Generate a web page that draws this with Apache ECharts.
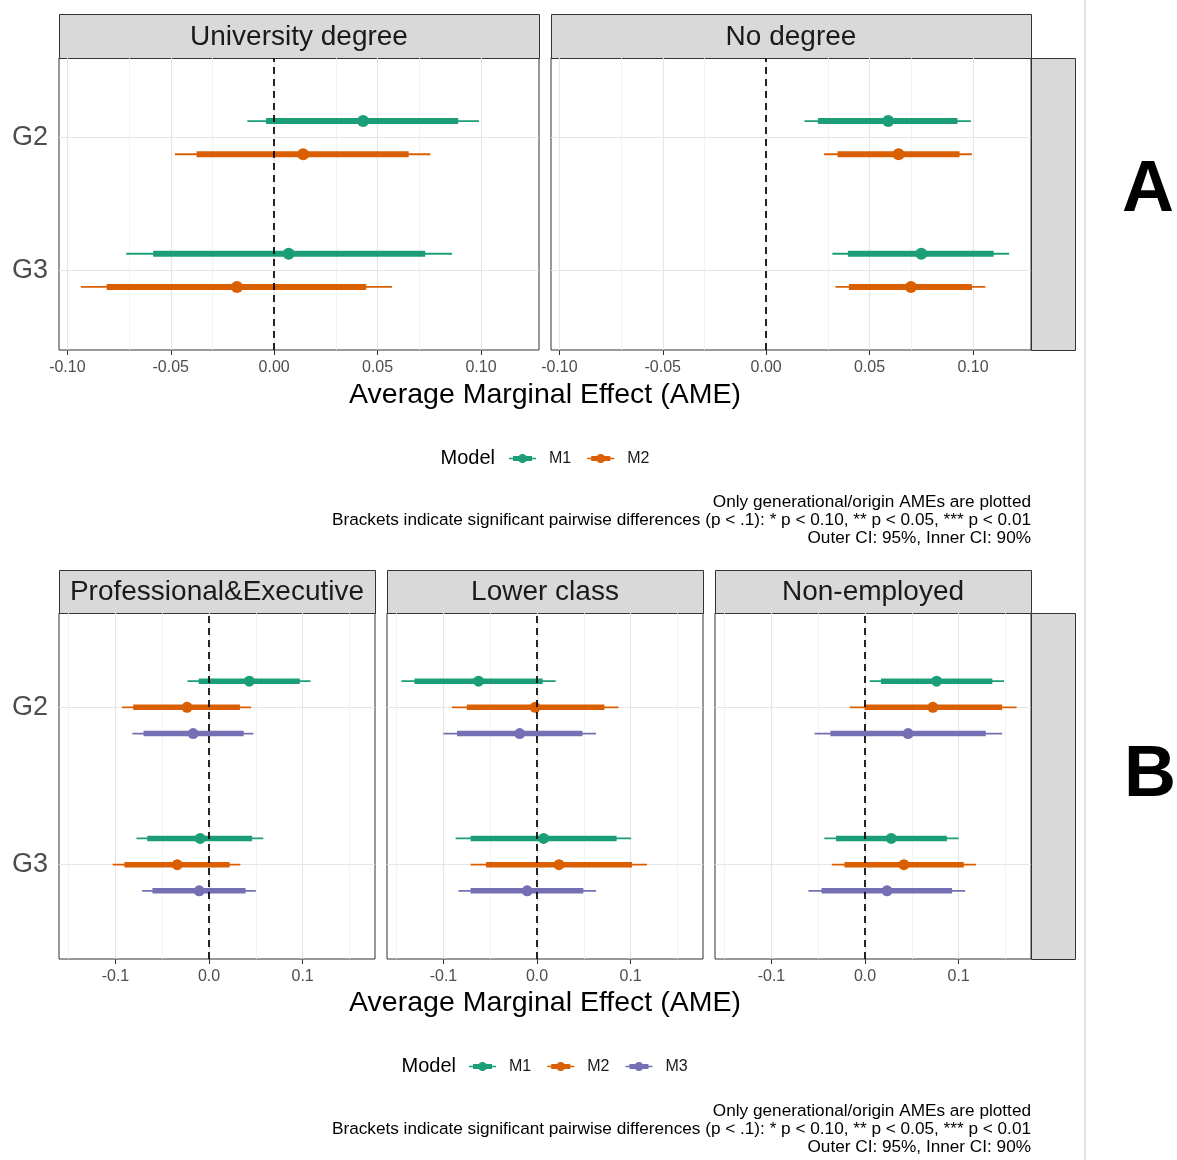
<!DOCTYPE html>
<html><head><meta charset="utf-8">
<script src="https://cdn.jsdelivr.net/npm/echarts@6/dist/echarts.min.js"></script>
<style>html,body{margin:0;padding:0;background:#fff}#c{width:1177px;height:1160px}</style>
</head><body><div id="c"></div><script>
// ---------------- DATA ----------------
const groups = ['G2', 'G3'];
const modelsA = ['M1', 'M2'];
const modelsB = ['M1', 'M2', 'M3'];
const modelColors = ['#1B9E77', '#D95F02', '#7570B3'];
const panelsA = ['University degree', 'No degree'];
const panelsB = ['Professional&Executive', 'Lower class', 'Non-employed'];
const ticksA = [-0.1, -0.05, 0, 0.05, 0.1];
const tickLabelsA = ['-0.10', '-0.05', '0.00', '0.05', '0.10'];
const minorA = [-0.075, -0.025, 0.025, 0.075, 0.125];
const ticksB = [-0.1, 0, 0.1];
const tickLabelsB = ['-0.1', '0.0', '0.1'];
const minorB = [-0.15, -0.05, 0.05, 0.15];
const xTitle = 'Average Marginal Effect (AME)';
const legendTitle = 'Model';
const captionLines = [
  'Only generational/origin AMEs are plotted',
  'Brackets indicate significant pairwise differences (p < .1): * p < 0.10, ** p < 0.05, *** p < 0.01',
  'Outer CI: 95%, Inner CI: 90%'
];
// rows: group, model, lo95, lo90, estimate, hi90, hi95
const uniDegree = [
  ['G2', 'M1', -0.013, -0.004, 0.043, 0.089, 0.099],
  ['G2', 'M2', -0.048, -0.0375, 0.014, 0.065, 0.0755],
  ['G3', 'M1', -0.0715, -0.0585, 0.007, 0.073, 0.086],
  ['G3', 'M2', -0.0935, -0.081, -0.018, 0.0445, 0.057]
];
const noDegree = [
  ['G2', 'M1', 0.0185, 0.025, 0.059, 0.0925, 0.099],
  ['G2', 'M2', 0.028, 0.0345, 0.064, 0.0935, 0.0995],
  ['G3', 'M1', 0.032, 0.0395, 0.075, 0.110, 0.1175],
  ['G3', 'M2', 0.0335, 0.040, 0.070, 0.0995, 0.106]
];
const profExec = [
  ['G2', 'M1', -0.023, -0.011, 0.043, 0.097, 0.1085],
  ['G2', 'M2', -0.093, -0.081, -0.0235, 0.033, 0.045],
  ['G2', 'M3', -0.082, -0.070, -0.017, 0.037, 0.0475],
  ['G3', 'M1', -0.0775, -0.066, -0.0095, 0.046, 0.058],
  ['G3', 'M2', -0.103, -0.0905, -0.034, 0.022, 0.0335],
  ['G3', 'M3', -0.0715, -0.0605, -0.0105, 0.039, 0.050]
];
const lowerClass = [
  ['G2', 'M1', -0.145, -0.131, -0.0625, 0.006, 0.020],
  ['G2', 'M2', -0.091, -0.075, -0.002, 0.072, 0.087],
  ['G2', 'M3', -0.100, -0.0855, -0.0185, 0.0485, 0.063],
  ['G3', 'M1', -0.087, -0.071, 0.007, 0.085, 0.1005],
  ['G3', 'M2', -0.071, -0.0545, 0.0235, 0.1015, 0.1175],
  ['G3', 'M3', -0.084, -0.071, -0.0105, 0.0495, 0.063]
];
const nonEmployed = [
  ['G2', 'M1', 0.005, 0.017, 0.0765, 0.136, 0.1485],
  ['G2', 'M2', -0.0165, -0.0005, 0.0725, 0.1465, 0.162],
  ['G2', 'M3', -0.054, -0.037, 0.046, 0.129, 0.1465],
  ['G3', 'M1', -0.0435, -0.031, 0.028, 0.0875, 0.100],
  ['G3', 'M2', -0.0355, -0.022, 0.0415, 0.1055, 0.1185],
  ['G3', 'M3', -0.0605, -0.0465, 0.0235, 0.093, 0.107]
];

// ---------------- LAYOUT / STYLE ----------------
const FONT = '"Liberation Sans", Arial, Helvetica, sans-serif';
const rowDefs = [
  { panels: panelsA, data: [uniDegree, noDegree], models: modelsA, ticks: ticksA, labels: tickLabelsA, minor: minorA,
    cols: [[59, 539], [551, 1031]], top: 58, height: 292, stripTop: 14, thin: 1.8, thick: 6, r: 6 },
  { panels: panelsB, data: [profExec, lowerClass, nonEmployed], models: modelsB, ticks: ticksB, labels: tickLabelsB, minor: minorB,
    cols: [[59, 375], [387, 703], [715, 1031]], top: 613, height: 346, stripTop: 570, thin: 1.8, thick: 5.5, r: 5.5 }
];

function extentOf(tables) {
  let lo = Infinity, hi = -Infinity;
  tables.forEach(t => t.forEach(r => { lo = Math.min(lo, r[2]); hi = Math.max(hi, r[6]); }));
  const pad = (hi - lo) * 0.05;
  return [lo - pad, hi + pad];
}

function makeRenderer(thin, thick, radius) {
  return function (params, api) {
    const y = api.value(0);
    const a = api.coord([api.value(1), y]);
    const b = api.coord([api.value(2), y]);
    const c = api.coord([api.value(3), y]);
    const d = api.coord([api.value(4), y]);
    const e = api.coord([api.value(5), y]);
    const color = api.visual('color');
    return {
      type: 'group', children: [
        { type: 'line', shape: { x1: a[0], y1: a[1], x2: e[0], y2: e[1] }, style: { stroke: color, lineWidth: thin, lineCap: 'butt' } },
        { type: 'line', shape: { x1: b[0], y1: b[1], x2: d[0], y2: d[1] }, style: { stroke: color, lineWidth: thick, lineCap: 'butt' } },
        { type: 'circle', shape: { cx: c[0], cy: c[1], r: radius }, style: { fill: color } }
      ]
    };
  };
}

const grids = [], xAxes = [], yAxes = [], series = [], graphics = [];
let g = 0;
rowDefs.forEach((row, ri) => {
  const ext = extentOf(row.data);
  const n = row.models.length;
  row.panels.forEach((pname, pi) => {
    const [x0, x1] = row.cols[pi];
    grids.push({ left: x0, top: row.top, width: x1 - x0, height: row.height, show: true,
      borderColor: '#333333', borderWidth: 1, backgroundColor: '#fff', containLabel: false });
    xAxes.push({
      gridIndex: g, type: 'value', min: ext[0], max: ext[1],
      axisLine: { show: false },
      axisTick: { show: true, customValues: row.ticks, length: 5, lineStyle: { color: '#333', width: 1 } },
      axisLabel: { customValues: row.ticks, margin: 10, color: '#4D4D4D', fontSize: 16, fontFamily: FONT,
        formatter: v => { const i = row.ticks.findIndex(t => Math.abs(t - v) < 1e-9); return i >= 0 ? row.labels[i] : ''; } },
      splitLine: { show: false }
    });
    yAxes.push({
      gridIndex: g, type: 'value', min: 0.4, max: 2.6,
      axisLine: { show: false },
      axisTick: { show: pi === 0, customValues: [1, 2], length: 5, lineStyle: { color: '#333', width: 1 } },
      axisLabel: { show: pi === 0, customValues: [1, 2], margin: 9, color: '#4D4D4D', fontSize: 27, fontFamily: FONT,
        padding: [10, 2, 0, 0],
        formatter: v => groups[groups.length - Math.round(v)] },
      splitLine: { show: false }
    });
    // gridlines
    const gl = [];
    row.minor.forEach(v => gl.push({ xAxis: v, lineStyle: { color: '#F0F0F0', width: 0.8, type: 'solid' } }));
    row.ticks.forEach(v => gl.push({ xAxis: v, lineStyle: { color: '#E6E6E6', width: 1.2, type: 'solid' } }));
    groups.forEach((gr, gi) => gl.push({ yAxis: groups.length - gi, lineStyle: { color: '#E6E6E6', width: 1.2, type: 'solid' } }));
    series.push({ type: 'line', xAxisIndex: g, yAxisIndex: g, data: [], silent: true,
      markLine: { z: 1, silent: true, symbol: 'none', animation: false, label: { show: false }, data: gl } });
    // error bars
    const table = row.data[pi];
    row.models.forEach((m, mi) => {
      const off = ((n - 1) / 2 - mi) * (0.5 / n);
      const pts = table.filter(r => r[1] === m).map(r => [groups.length - groups.indexOf(r[0]) + off, r[2], r[3], r[4], r[5], r[6]]);
      series.push({ type: 'custom', name: m, xAxisIndex: g, yAxisIndex: g, z: 3, clip: false,
        itemStyle: { color: modelColors[mi] }, encode: { x: [1, 2, 3, 4, 5], y: 0 },
        renderItem: makeRenderer(row.thin, row.thick, row.r), data: pts });
    });
    // zero reference line
    series.push({ type: 'line', xAxisIndex: g, yAxisIndex: g, data: [], silent: true,
      markLine: { z: 6, silent: true, symbol: 'none', animation: false, label: { show: false },
        data: [{ xAxis: 0, lineStyle: { color: '#000', width: 1.7, type: [7, 5] } }] } });
    // strip
    graphics.push({ type: 'group', children: [
      { type: 'rect', shape: { x: x0 + 0.5, y: row.stripTop + 0.5, width: x1 - x0, height: row.top - row.stripTop }, style: { fill: '#D9D9D9', stroke: '#333', lineWidth: 1 } },
      { type: 'text', x: (x0 + x1) / 2, y: (row.stripTop + row.top) / 2 + 1, style: { text: pname, fill: '#1A1A1A', font: '28px ' + FONT, textAlign: 'center', textVerticalAlign: 'middle' } }
    ] });
    g++;
  });
  // side strip
  graphics.push({ type: 'rect', shape: { x: 1031.5, y: row.top + 0.5, width: 44, height: row.height }, style: { fill: '#D9D9D9', stroke: '#333', lineWidth: 1 } });
});

// titles, legend titles, captions
const titleY = [395, 1003];
const legY = [458, 1066];
const legTitleRight = [495, 456];
const capY = [[502, 520, 538], [1111, 1129, 1147]];
[0, 1].forEach(i => {
  graphics.push({ type: 'text', x: 545, y: titleY[i], style: { text: xTitle, fill: '#000', font: '28.5px ' + FONT, textAlign: 'center', textVerticalAlign: 'middle' } });
  graphics.push({ type: 'text', x: legTitleRight[i], y: legY[i], style: { text: legendTitle, fill: '#000', font: '20px ' + FONT, textAlign: 'right', textVerticalAlign: 'middle' } });
  captionLines.forEach((t, k) => graphics.push({ type: 'text', x: 1031, y: capY[i][k], style: { text: t, fill: '#000', font: '17.2px ' + FONT, textAlign: 'right', textVerticalAlign: 'middle' } }));
});
graphics.push({ type: 'text', x: 1148, y: 191, style: { text: 'A', fill: '#000', font: 'bold 72px ' + FONT, textAlign: 'center', textVerticalAlign: 'middle' } });
graphics.push({ type: 'text', x: 1150, y: 776, style: { text: 'B', fill: '#000', font: 'bold 72px ' + FONT, textAlign: 'center', textVerticalAlign: 'middle' } });
graphics.push({ type: 'rect', shape: { x: 1084, y: 0, width: 2, height: 1160 }, style: { fill: '#E2E2E2' } });

const keyPath = 'path://M0,7.75H27V9.25H0Z M4,6H23V11H4Z M9,8.5a4.5,4.5 0 1,1 9,0a4.5,4.5 0 1,1 -9,0Z';
const legendBase = { orient: 'horizontal', padding: 0, itemWidth: 27, itemHeight: 9, itemGap: 16, icon: keyPath,
  selectedMode: false, textStyle: { fontSize: 16, color: '#1A1A1A', fontFamily: FONT, padding: [0, 0, 0, 8] } };

const chart = echarts.init(document.getElementById('c'), null, { renderer: 'canvas' });
chart.setOption({
  animation: false,
  backgroundColor: '#fff',
  textStyle: { fontFamily: FONT },
  grid: grids, xAxis: xAxes, yAxis: yAxes, series: series,
  legend: [
    Object.assign({}, legendBase, { data: modelsA, left: 509, top: 450.5 }),
    Object.assign({}, legendBase, { data: modelsB, left: 469, top: 1058.5 })
  ],
  graphic: graphics
});
</script></body></html>
